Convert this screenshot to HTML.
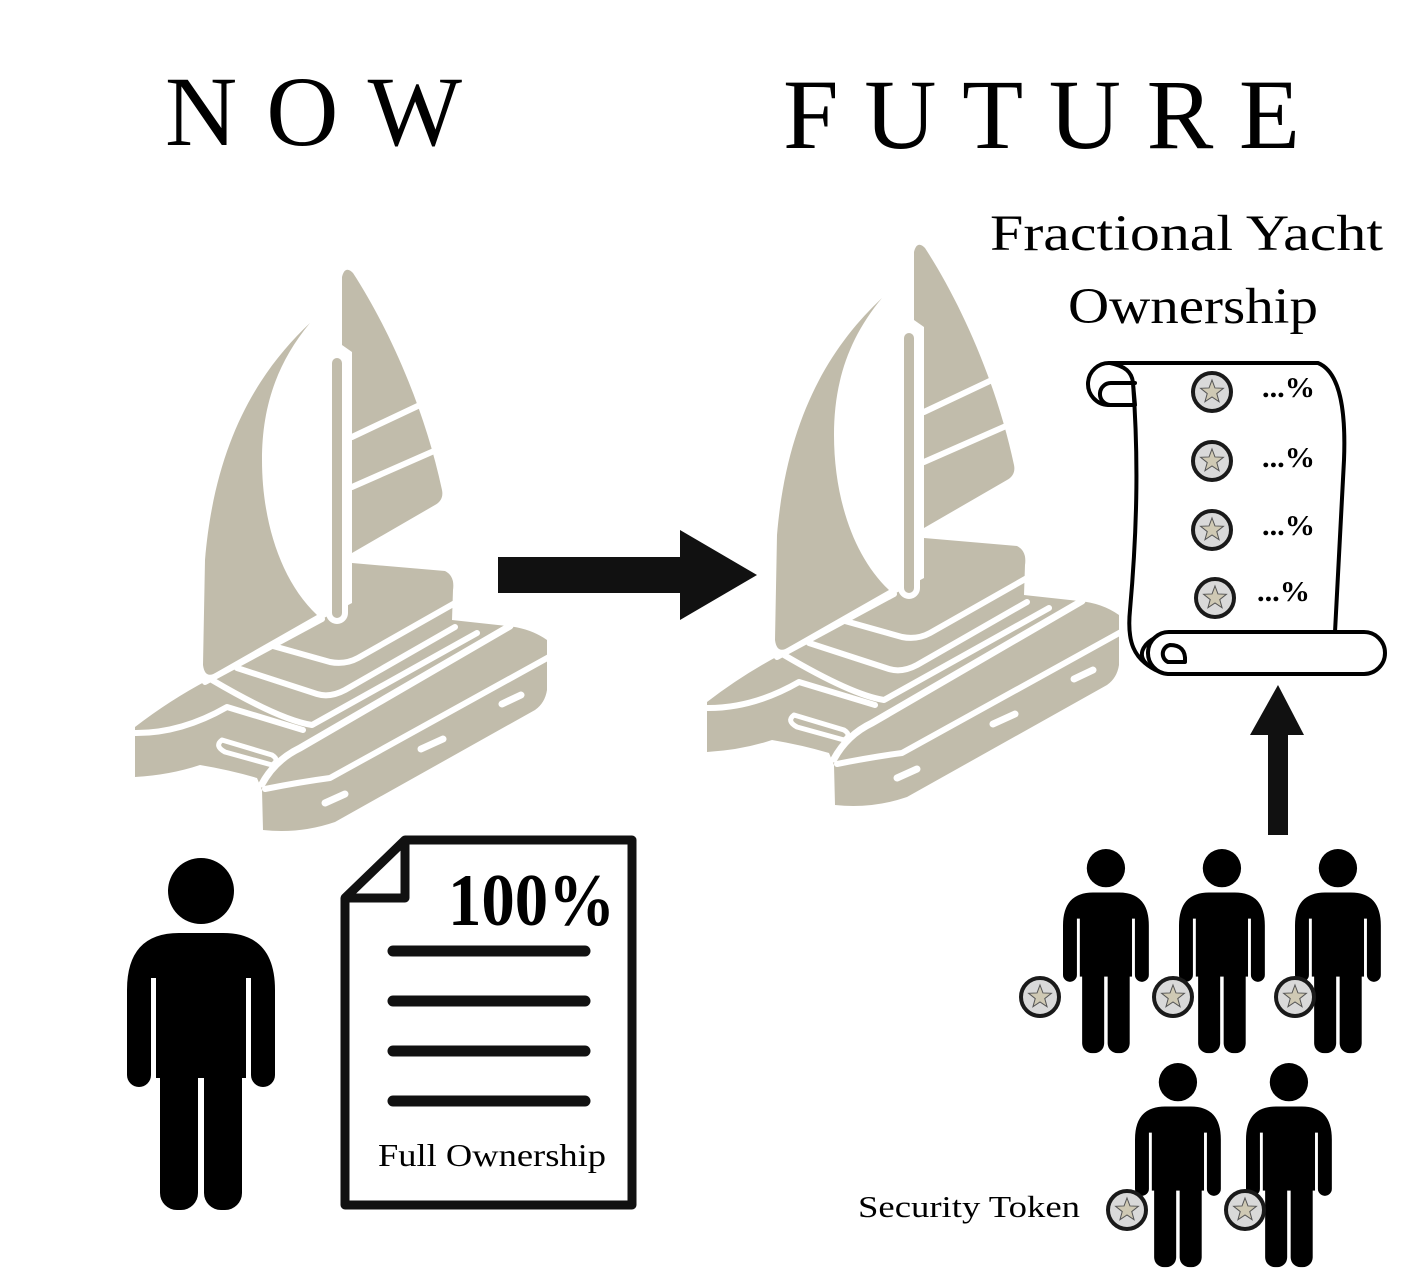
<!DOCTYPE html>
<html><head><meta charset="utf-8"><style>html,body{margin:0;padding:0;background:#fff}svg{display:block}</style></head>
<body>
<svg width="1424" height="1272" viewBox="0 0 1424 1272" xmlns="http://www.w3.org/2000/svg">
<defs>
<g id="boat">
  <path fill="#c1bcab" d="M310,323 C260,370 215,440 205,560 L203,665 Q205,680 217,672 L317,615 C280,580 262,520 262,460 C262,410 275,365 310,323 Z"/>
  <path fill="#c1bcab" d="M342,277 Q345,265 353,273 C390,330 425,410 442,490 Q444,500 435,505 L352,553 L352,352 L342,345 Z"/>
  <path fill="#c1bcab" d="M135,727 Q170,700 208,680 L352,603 L352,563 L445,571 Q455,576 453,590 L452,620 L507,626 Q530,628 547,640 L547,690 Q545,703 535,710 L335,822 Q300,834 263,830 L262,790 L257,778 Q230,770 200,765 Q170,775 135,777 Z"/>
  <g stroke="#fff" stroke-width="6" fill="none" stroke-linecap="round" stroke-linejoin="round">
    <line x1="352" y1="437" x2="422" y2="404"/>
    <line x1="352" y1="487" x2="434" y2="451"/>
    <path d="M352,557 L445,506"/>
    <path d="M205,682 L322,619"/>
    <path d="M212,680 Q280,720 312,725 L477,633"/>
    <path d="M237,668 L317,694 Q330,698 345,690 L455,627"/>
    <path d="M273,646 L330,662 Q345,665 358,658 L455,603"/>
    <path d="M262,784 Q275,760 300,748 L510,626" stroke-width="7"/>
    <path d="M265,789 Q300,782 330,778 L549,657"/>
    <path d="M133,733 Q180,734 227,707 L303,730"/>
    <path d="M222,740 L272,755 Q280,760 272,765 L225,752 Q214,746 222,740 Z" stroke-width="5"/>
  </g>
  <rect x="329" y="355" width="16" height="266" rx="8" fill="#c1bcab" stroke="#fff" stroke-width="6"/>
  <g stroke="#fff" stroke-width="7" stroke-linecap="round">
    <line x1="325" y1="803" x2="345" y2="794"/>
    <line x1="421" y1="749" x2="443" y2="739"/>
    <line x1="502" y1="704" x2="521" y2="695"/>
  </g>
</g>
<g id="person">
  <circle cx="74" cy="33" r="33"/>
  <path d="M0,217 L0,132 Q0,75 52,75 L96,75 Q148,75 148,132 L148,217 A12,12 0 0 1 124,217 L124,120 L24,120 L24,217 A12,12 0 0 1 0,217 Z"/>
  <rect x="29" y="100" width="90" height="120"/>
  <rect x="33" y="190" width="38" height="162" rx="17"/>
  <rect x="77" y="190" width="38" height="162" rx="17"/>
  <rect x="33" y="190" width="82" height="20"/>
</g>
<g id="coin">
  <circle r="19" fill="#d9d9d9" stroke="#1a1a1a" stroke-width="4"/>
  <polygon fill="#cfc9b4" stroke="#555" stroke-width="1" points="0,-12 2.94,-4.05 11.4,-3.7 4.76,1.55 7.05,9.7 0,5 -7.05,9.7 -4.76,1.55 -11.4,-3.7 -2.94,-4.05"/>
</g>
</defs>

<use href="#boat"/>
<use href="#boat" transform="translate(572,-25)"/>

<!-- arrows -->
<rect x="498" y="557" width="184" height="36" fill="#111"/>
<polygon points="680,530 757,575 680,620" fill="#111"/>
<rect x="1268" y="730" width="20" height="105" fill="#111"/>
<polygon points="1250,735 1278,685 1304,735" fill="#111"/>

<!-- document -->
<g fill="none" stroke="#111" stroke-width="9" stroke-linejoin="round">
  <path d="M345,898 L405,840 L632,840 L632,1205 L345,1205 Z" fill="#fff"/>
  <path d="M345,898 L405,898 L405,840"/>
</g>
<g stroke="#111" stroke-width="11" stroke-linecap="round">
  <line x1="393" y1="951" x2="585" y2="951"/>
  <line x1="393" y1="1001" x2="585" y2="1001"/>
  <line x1="393" y1="1051" x2="585" y2="1051"/>
  <line x1="393" y1="1101" x2="585" y2="1101"/>
</g>

<!-- people -->
<use href="#person" transform="translate(127,858)"/>
<use href="#person" transform="translate(1063,849) scale(0.58)"/>
<use href="#person" transform="translate(1179,849) scale(0.58)"/>
<use href="#person" transform="translate(1295,849) scale(0.58)"/>
<use href="#person" transform="translate(1135,1063) scale(0.58)"/>
<use href="#person" transform="translate(1246,1063) scale(0.58)"/>
<use href="#coin" transform="translate(1040,997)"/>
<use href="#coin" transform="translate(1173,997)"/>
<use href="#coin" transform="translate(1295,997)"/>
<use href="#coin" transform="translate(1127,1210)"/>
<use href="#coin" transform="translate(1245,1210)"/>

<!-- scroll -->
<g fill="#fff" stroke="#000" stroke-width="4" stroke-linejoin="round" stroke-linecap="round">
  <path d="M1110,363 L1318,363 C1340,372 1346,410 1344,460 L1335,632 L1170,632 C1140,640 1130,660 1160,672 C1132,660 1127,640 1130,610 C1138,520 1138,450 1133,383 L1135,405 L1108,405 A21,21 0 0 1 1110,363 Z"/>
  <path d="M1135,383 L1112,383 A11,11 0 0 0 1110,405" fill="none"/>
  <path d="M1133,383 C1132,372 1125,366 1110,363" fill="none"/>
  <path d="M1170,632 L1364,632 A21,21 0 0 1 1364,674 L1168,674 A21,21 0 0 1 1170,632 Z"/>
  <path d="M1170,645 A9,9 0 0 0 1168,662 L1185,662 C1186,650 1180,645 1170,645 Z" fill="none"/>
</g>
<use href="#coin" transform="translate(1212,392)"/>
<use href="#coin" transform="translate(1212,461)"/>
<use href="#coin" transform="translate(1212,530)"/>
<use href="#coin" transform="translate(1215,598)"/>

<g font-family="Liberation Serif, serif" fill="#000">
  <text x="165" y="145" font-size="100" textLength="297" lengthAdjust="spacing">NOW</text>
  <text x="783" y="148" font-size="100" textLength="517" lengthAdjust="spacing">FUTURE</text>
  <text x="990" y="250" font-size="51" textLength="393" lengthAdjust="spacingAndGlyphs">Fractional Yacht</text>
  <text x="1068" y="323" font-size="51" textLength="250" lengthAdjust="spacingAndGlyphs">Ownership</text>
  <text x="448" y="925" font-size="74" font-weight="bold" textLength="167" lengthAdjust="spacingAndGlyphs">100%</text>
  <text x="378" y="1166" font-size="32" textLength="228" lengthAdjust="spacingAndGlyphs">Full Ownership</text>
  <text x="858" y="1217" font-size="31" textLength="222" lengthAdjust="spacingAndGlyphs">Security Token</text>
</g>
<g font-family="Liberation Serif, serif" font-weight="bold" font-size="28">
  <text x="1262" y="397" textLength="53" lengthAdjust="spacingAndGlyphs">...%</text>
  <text x="1262" y="467" textLength="53" lengthAdjust="spacingAndGlyphs">...%</text>
  <text x="1262" y="535" textLength="53" lengthAdjust="spacingAndGlyphs">...%</text>
  <text x="1257" y="601" textLength="53" lengthAdjust="spacingAndGlyphs">...%</text>
</g>
</svg>
</body></html>
